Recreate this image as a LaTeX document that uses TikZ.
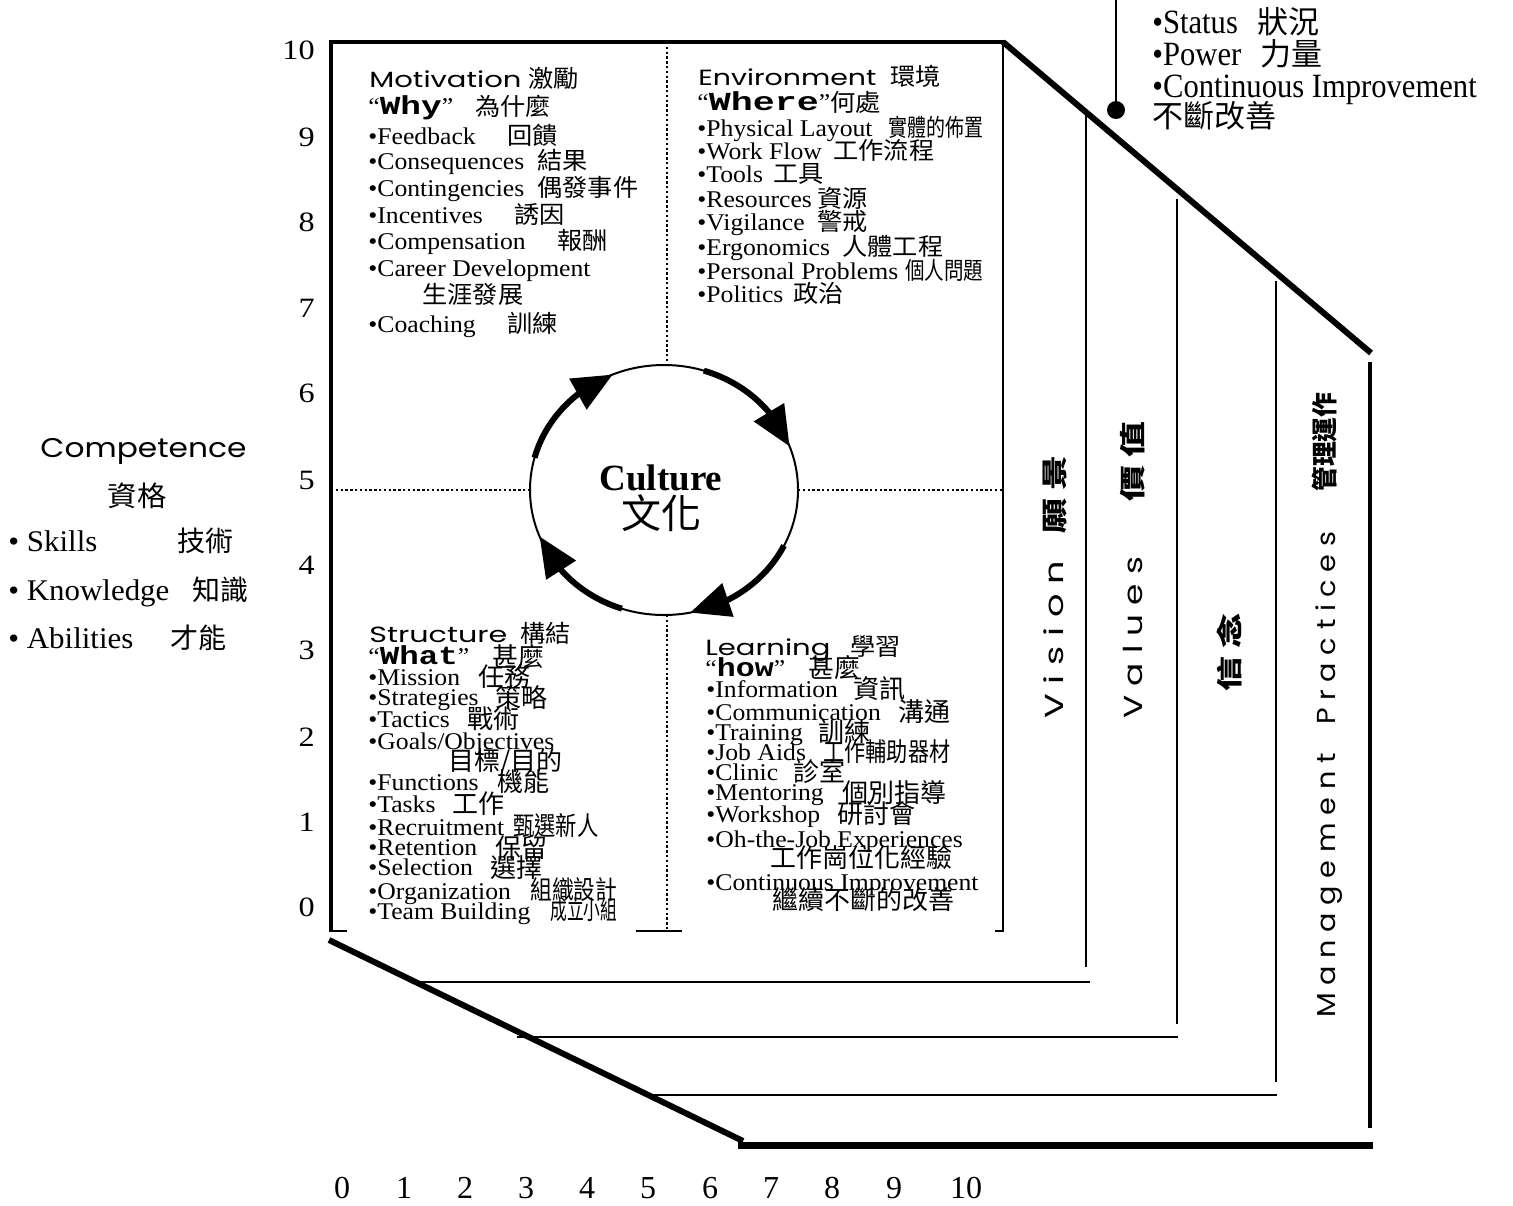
\documentclass[tikz,border=0pt]{standalone}
\usepackage{fontspec}
\setmainfont{Liberation Serif}
\newfontfamily\zhf{Noto Sans CJK TC}
\newfontfamily\hdf{Poppins}
\newfontfamily\monof{Liberation Mono}
\usetikzlibrary{arrows.meta,bending,calc}
\tikzset{
  lat/.style={anchor=base west,inner sep=0pt,font=\fontsize{12}{14}\selectfont},
  zhu/.style={anchor=base west,inner sep=0pt,font=\zhf\fontsize{12}{14}\selectfont},
  zhl/.style={anchor=base west,inner sep=0pt,font=\zhf\fontsize{13}{15}\selectfont},
  hd/.style={anchor=base west,inner sep=0pt,font=\hdf\fontsize{11}{13}\selectfont},
  vt/.style={anchor=base west,inner sep=0pt,rotate=90,font=\hdf\fontsize{13}{15}\selectfont},
  vz/.style={anchor=base west,inner sep=0pt,rotate=90,font=\zhf\bfseries\fontsize{13}{15}\selectfont},
  num/.style={inner sep=0pt,font=\fontsize{14}{16}\selectfont},
  thickline/.style={line width=2.3pt},
  heavyline/.style={line width=3pt},
  thinline/.style={line width=1pt},
  dotline/.style={line width=1.3pt,dash pattern=on 1.2pt off 1.2pt},
  cyc/.style={line width=3pt,-{Triangle[length=20pt,width=17pt]}},
}
\newcommand\qL[4]{\node[lat] (#1) at (#2,#3) {\scalebox{1.07}[1]{#4}};}
\newcommand\qU[4]{\node[zhu] (#1) at (#2,#3) {\scalebox{1.05}[1]{#4}};}
\newcommand\qD[4]{\node[zhl] (#1) at (#2,#3) {#4};}
\newcommand\qW[5]{\node[zhl] (#1) at (#2,#3) {\resizebox{#4}{\height}{#5}};}
\newcommand\qQ[5]{\node[lat] (#1) at (#2,#3) {\scalebox{1.07}[1]{“}\resizebox{#4}{\height}{\monof\fontsize{13}{15}\selectfont\bfseries #5}\scalebox{1.07}[1]{”}};}
\begin{document}
\begin{tikzpicture}[x=0.5pt,y=-0.5pt]
\fill[white] (0,0) rectangle (1513,1205);
\useasboundingbox (0,0) rectangle (1513,1205);

% ---------- frame ----------
\draw[thickline] (331,932) -- (331,42) -- (1005,42);
\draw[thinline] (331,931) -- (347,931);
\draw[thinline] (1003,42) -- (1003,931) -- (995,931);
\draw[thinline] (636,931) -- (682,931);
\draw[heavyline] (1003,42) -- (1371,353);
\draw[thickline] (1370,362) -- (1370,1128);
\draw[line width=3.5pt] (738,1145) -- (1373,1145);
\draw[heavyline] (329,940) -- (743,1141);
% layers
\draw[thinline] (1086,115) -- (1086,967);
\draw[line width=1.2pt] (415,982) -- (1090,982);
\draw[thinline] (1177,199) -- (1177,1024);
\draw[line width=1.2pt] (517,1037) -- (1178,1037);
\draw[thinline] (1276,281) -- (1276,1082);
\draw[line width=1.2pt] (650,1095) -- (1277,1095);

% ---------- culture circle ----------
\coordinate (c) at (664,490);
\draw[thinline] (c) ellipse [x radius=134, y radius=125];
\draw[dotline] (667,42) -- (667,365);
\draw[dotline] (667,615) -- (667,931);
\draw[dotline] (331,490) -- (530,490);
\draw[dotline] (798,490) -- (1003,490);
\draw[cyc] ($(c)+(-165:134 and 125)$) arc[start angle=-165,end angle=-112.5,x radius=134,y radius=125];
\draw[cyc] ($(c)+(-72.7:134 and 125)$) arc[start angle=-72.7,end angle=-20.4,x radius=134,y radius=125];
\draw[cyc] ($(c)+(26.4:134 and 125)$) arc[start angle=26.4,end angle=78.8,x radius=134,y radius=125];
\draw[cyc] ($(c)+(108.3:134 and 125)$) arc[start angle=108.3,end angle=158.2,x radius=134,y radius=125];
\node[anchor=base,inner sep=0pt,font=\bfseries\fontsize{18.5}{20}\selectfont] (cul) at (661,490) {Culture};
\node[anchor=base,inner sep=0pt,font=\zhf\fontsize{20}{22}\selectfont] (culz) at (661,528) {文化};

% ---------- axis numbers ----------
\foreach \n/\yy in {10/50,9/137,8/222,7/308,6/393,5/480,4/565,3/650,2/737,1/822,0/907}
  \node[num,anchor=east] (ly\n) at (315,\yy) {\scalebox{1.15}[1]{\n}};
\foreach \n/\xx in {0/342,1/404,2/465,3/526,4/587,5/648,6/710,7/771,8/832,9/894,10/966}
  \node[num,font=\fontsize{16}{18}\selectfont] (bx\n) at (\xx,1188) {\n};

% ---------- Motivation ----------
\node[hd] (hmot) at (369,87) {\resizebox{76pt}{\height}{Motivation}};
\qU{hmotz}{528}{87}{激勵}
\qQ{qwhy}{368}{114}{31pt}{Why}
\qU{qwhyz}{475}{115}{為什麼}
\qL{m1}{368}{144}{•Feedback}\qU{m1z}{507}{144}{回饋}
\qL{m2}{368}{169}{•Consequences}\qU{m2z}{537}{169}{結果}
\qL{m3}{368}{196}{•Contingencies}\qU{m3z}{537}{196}{偶發事件}
\qL{m4}{368}{223}{•Incentives}\qU{m4z}{514}{223}{誘因}
\qL{m5}{368}{249}{•Compensation}\qU{m5z}{557}{249}{報酬}
\qL{m6}{368}{276}{•Career Development}
\qU{m6z}{422}{303}{生涯發展}
\qL{m7}{368}{332}{•Coaching}\qU{m7z}{507}{332}{訓練}

% ---------- Environment ----------
\node[hd] (henv) at (698,85) {\resizebox{89pt}{\height}{Environment}};
\qU{henvz}{890}{85}{環境}
\qQ{qwhere}{697}{110}{55pt}{Where}
\qU{qwherez}{830}{111}{何處}
\qL{e1}{697}{136}{•Physical Layout}\node[zhu] (e1z) at (888,136) {\resizebox{47.5pt}{\height}{實體的佈置}};
\qL{e2}{697}{159}{•Work Flow}\qU{e2z}{833}{159}{工作流程}
\qL{e3}{697}{182}{•Tools}\qU{e3z}{773}{182}{工具}
\qL{e4}{697}{207}{•Resources}\qU{e4z}{817}{207}{資源}
\qL{e5}{697}{230}{•Vigilance}\qU{e5z}{817}{230}{警戒}
\qL{e6}{697}{255}{•Ergonomics}\qU{e6z}{842}{255}{人體工程}
\qL{e7}{697}{279}{•Personal Problems}\node[zhu] (e7z) at (905,279) {\resizebox{39pt}{\height}{個人問題}};
\qL{e8}{697}{302}{•Politics}\qU{e8z}{793}{302}{政治}

% ---------- Structure ----------
\node[hd] (hstr) at (369,642) {\resizebox{69pt}{\height}{Structure}};
\qU{hstrz}{520}{642}{構結}
\qQ{qwhat}{368}{664}{39pt}{What}
\qD{qwhatz}{492}{666}{甚麼}
\qL{s1}{368}{685}{•Mission}\qD{s1z}{478}{686}{任務}
\qL{s2}{368}{705}{•Strategies}\qD{s2z}{495}{707}{策略}
\qL{s3}{368}{727}{•Tactics}\qD{s3z}{467}{728}{戰術}
\qL{s4}{368}{749}{•Goals/Objectives}
\qD{s4z}{448}{770}{目標/目的}
\qL{s5}{368}{790}{•Functions}\qD{s5z}{497}{791}{機能}
\qL{s6}{368}{812}{•Tasks}\qD{s6z}{452}{813}{工作}
\qL{s7}{368}{835}{•Recruitment}\qW{s7z}{513}{835}{42.5pt}{甄選新人}
\qL{s8}{368}{855}{•Retention}\qD{s8z}{495}{857}{保留}
\qL{s9}{368}{875}{•Selection}\qD{s9z}{490}{877}{選擇}
\qL{s10}{368}{899}{•Organization}\qW{s10z}{530}{899}{43.5pt}{組織設計}
\qL{s11}{368}{919}{•Team Building}\qW{s11z}{550}{919}{33.5pt}{成立小組}

% ---------- Learning ----------
\node[hd] (hlea) at (705,655) {\resizebox{62.5pt}{\height}{Learning}};
\qU{hleaz}{850}{655}{學習}
\qQ{qhow}{705}{676}{28.5pt}{how}
\qD{qhowz}{808}{677}{甚麼}
\qL{l1}{706}{697}{•Information}\qD{l1z}{853}{698}{資訊}
\qL{l2}{706}{720}{•Communication}\qD{l2z}{898}{721}{溝通}
\qL{l3}{706}{740}{•Training}\qD{l3z}{818}{741}{訓練}
\qL{l4}{706}{760}{•Job Aids}\qW{l4z}{823}{761}{63.5pt}{工作輔助器材}
\qL{l5}{706}{780}{•Clinic}\qD{l5z}{793}{781}{診室}
\qL{l6}{706}{800}{•Mentoring}\qD{l6z}{842}{802}{個別指導}
\qL{l7}{706}{822}{•Workshop}\qD{l7z}{837}{823}{研討會}
\qL{l8}{706}{847}{•Oh-the-Job Experiences}
\qD{l8z}{770}{867}{工作崗位化經驗}
\qL{l9}{706}{890}{•Continuous Improvement}
\qD{l9z}{772}{909}{繼續不斷的改善}

% ---------- top right ----------
\coordinate (pintop) at (1116,0);
\node[circle,fill=black,minimum size=9pt,inner sep=0pt] (pin) at (1116,110) {};
\draw[thinline] (pintop) -- (pin);
\node[lat,font=\fontsize{17}{19}\selectfont] (t1) at (1152,33) {\scalebox{0.9}[1]{•Status}};
\node[zhu,font=\zhf\fontsize{15.5}{17}\selectfont] (t1z) at (1257,33) {狀況};
\node[lat,font=\fontsize{17}{19}\selectfont] (t2) at (1152,65) {\scalebox{0.9}[1]{•Power}};
\node[zhu,font=\zhf\fontsize{15.5}{17}\selectfont] (t2z) at (1260,65) {力量};
\node[lat,font=\fontsize{17}{19}\selectfont] (t3) at (1152,97) {\scalebox{0.9}[1]{•Continuous Improvement}};
\node[zhu,font=\zhf\fontsize{15.5}{17}\selectfont] (t4z) at (1152,127) {不斷改善};

% ---------- left: competence ----------
\node[hd,font=\hdf\fontsize{13.5}{15}\selectfont] (comp) at (40,457) {\resizebox{103pt}{\height}{Competence}};
\node[anchor=base,inner sep=0pt,font=\zhf\fontsize{14}{16}\selectfont] (compz) at (137,506) {\scalebox{1.05}[1]{資格}};
\node[lat,font=\fontsize{15}{17}\selectfont] (sk) at (8,551) {\scalebox{1.03}[1]{• Skills}};
\node[zhu,font=\zhf\fontsize{14}{16}\selectfont] (skz) at (177,551) {技術};
\node[lat,font=\fontsize{15}{17}\selectfont] (kn) at (8,600) {\scalebox{1.03}[1]{• Knowledge}};
\node[zhu,font=\zhf\fontsize{14}{16}\selectfont] (knz) at (192,600) {知識};
\node[lat,font=\fontsize{15}{17}\selectfont] (ab) at (8,648) {\scalebox{1.03}[1]{• Abilities}};
\node[zhu,font=\zhf\fontsize{14}{16}\selectfont] (abz) at (170,648) {才能};

% ---------- vertical labels ----------
\node[vt] (vis) at (1063,719) {\resizebox{79pt}{\height}{V i s i o n}};
\node[vz] (visz) at (1064,534) {\resizebox{39pt}{\height}{願 景}};
\node[vt] (val) at (1142,719) {\resizebox{81pt}{\height}{V a l u e s}};
\node[vz] (valz) at (1142,502) {\resizebox{40pt}{\height}{價 值}};
\node[vz] (belz) at (1239,692) {\resizebox{39pt}{\height}{信 念}};
\node[vt] (mgt) at (1335,1018) {\resizebox{243pt}{\height}{M a n a g e m e n t\quad P r a c t i c e s}};
\node[vz] (mgtz) at (1334,492) {\resizebox{49.5pt}{\height}{管理運作}};
\end{tikzpicture}
\end{document}
